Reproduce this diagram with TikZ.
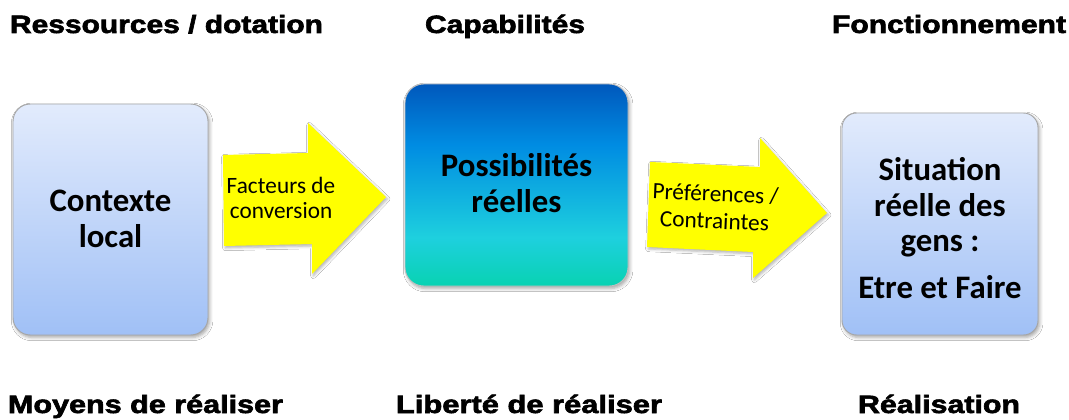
\documentclass[tikz,border=0pt]{standalone}
\usepackage{fontspec}
\usepackage{graphicx}
\setmainfont{Carlito}
\newfontfamily\hfont[BoldFeatures={FakeBold=2.2}]{Liberation Sans}
\usetikzlibrary{shadows.blur}
\definecolor{boxtop}{RGB}{226,235,252}
\definecolor{boxbot}{RGB}{160,192,246}
\definecolor{mA}{RGB}{0,88,188}
\definecolor{mB}{RGB}{0,140,226}
\definecolor{mC}{RGB}{30,208,222}
\definecolor{mD}{RGB}{8,210,178}
\definecolor{arrowyellow}{RGB}{255,255,0}
\pgfdeclareverticalshading{midshade}{100bp}{color(0bp)=(mD); color(25bp)=(mD); color(37bp)=(mC); color(60bp)=(mB); color(75bp)=(mA); color(100bp)=(mA)}
\newcommand\hd[2]{\resizebox{#1}{\height}{\hfont\bfseries\fontsize{18.8}{20}\selectfont #2}}
\tikzset{
  sbox/.style={draw=black!35, line width=0.7pt, top color=boxtop, bottom color=boxbot,
    blur shadow={shadow xshift=1.2pt, shadow yshift=-1.8pt, shadow blur radius=2.5pt, shadow opacity=35},
    inner sep=0pt},
  mbox/.style={draw=black!25, line width=0.7pt, shading=midshade,
    blur shadow={shadow xshift=1.2pt, shadow yshift=-1.8pt, shadow blur radius=2.5pt, shadow opacity=35},
    inner sep=0pt},
  barrow/.style={fill=arrowyellow,
    blur shadow={shadow xshift=1pt, shadow yshift=-1.5pt, shadow blur radius=2pt, shadow opacity=30}},
  alabel/.style={align=center, font=\fontsize{17.5}{18.75}\selectfont, inner sep=0pt},
  btext/.style={align=center, font=\bfseries\fontsize{24.6}{26.8}\selectfont, inner sep=0pt},
  head/.style={anchor=base, inner sep=0pt}
}
\begin{document}
\begin{tikzpicture}[x=0.75pt, y=-0.75pt]
\useasboundingbox[fill=white] (0,0) rectangle (1069,420);

% headings
\node[head] (h1) at (166.5,33) {\hd{234.75pt}{Ressources / dotation}};
\node[head] (h2) at (505,33) {\hd{120pt}{Capabilités}};
\node[head] (h3) at (949,33) {\hd{175.5pt}{Fonctionnement}};
\node[head] (f1) at (145.5,413) {\hd{206.25pt}{Moyens de réaliser}};
\node[head] (f2) at (529,413) {\hd{199.5pt}{Liberté de réaliser}};
\node[head] (f3) at (939,413) {\hd{121.5pt}{Réalisation}};

% boxes
\node[sbox, rounded corners=13pt, minimum width=146.25pt, minimum height=173.25pt] (ctx) at (110.5,219.5) {};
\node[btext] (ctxt) at (110.5,219) {Contexte\\local};

\node[mbox, rounded corners=14pt, minimum width=167.25pt, minimum height=151.5pt] (pos) at (516.5,185) {};
\node[btext] (post) at (516.5,183) {Possibilités\\réelles};

\node[sbox, rounded corners=11pt, minimum width=147pt, minimum height=166.5pt] (sit) at (940,224) {};
\node[btext] (sitt) at (940,228) {Situation\\réelle des\\gens :\\[8pt]Etre et Faire};

% block arrows
\fill[barrow] (223,155) -- (308,153) -- (308,123) -- (386,197) -- (312,274) -- (312,244) -- (224,246) -- cycle;
\node[alabel, rotate=0.5] (a1) at (281,198) {Facteurs de\\conversion};

\fill[barrow] (650,162) -- (760,167) -- (760,138) -- (827,213) -- (753,278) -- (753,252) -- (647,247) -- cycle;
\node[alabel, font=\fontsize{17.5}{20.5}\selectfont, rotate=-2.4] (a2) at (715,207) {Préférences /\\Contraintes};
\end{tikzpicture}
\end{document}
